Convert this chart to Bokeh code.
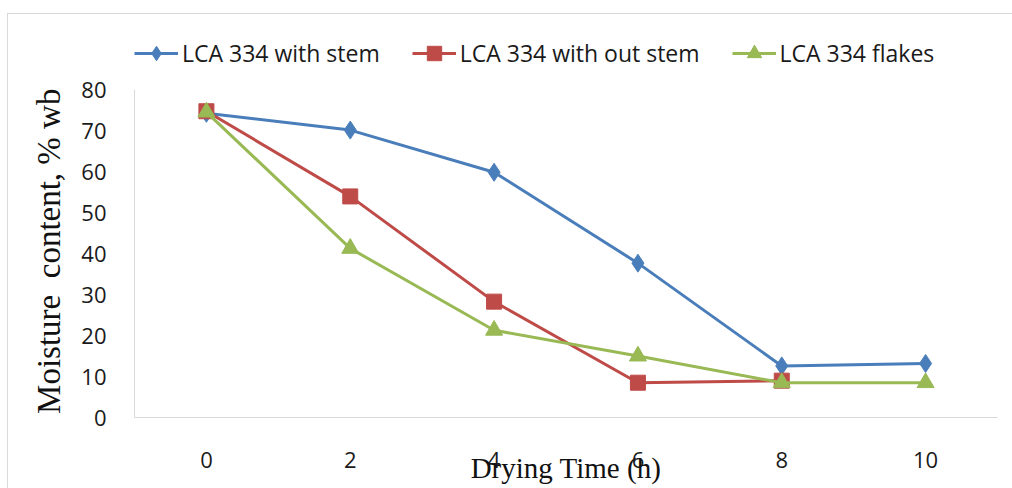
from bokeh.plotting import figure
from bokeh.models import Range1d, Legend, LegendItem, FixedTicker
from bokeh.embed import file_html
from bokeh.resources import INLINE

times = [0, 2, 4, 6, 8, 10]
with_stem = [74.3, 70.2, 59.9, 37.7, 12.6, 13.2]
without_stem_times = [0, 2, 4, 6, 8]
without_stem = [74.8, 54.0, 28.3, 8.5, 9.0]
flakes = [74.6, 41.3, 21.3, 15.0, 8.5, 8.5]
y_ticks = [0, 10, 20, 30, 40, 50, 60, 70, 80]

BLUE = "#4a7ebb"
RED = "#be4b48"
GREEN = "#98b954"

p = figure(width=1005, height=475, x_range=Range1d(-1, 11.0), y_range=Range1d(0, 93.3),
           output_backend="svg", toolbar_location=None,
           min_border_left=126, min_border_right=16, min_border_top=21, min_border_bottom=72)
p.margin = (13, 0, 0, 7)
p.styles = {"border-top": "1px solid #d9d9d9", "border-left": "1px solid #d9d9d9"}
p.outline_line_color = None
p.xgrid.visible = False
p.ygrid.visible = False

r1 = p.line(times, with_stem, line_color=BLUE, line_width=3)
m1 = p.scatter(times, with_stem, marker="diamond", size=18, fill_color=BLUE, line_color=BLUE)
r2 = p.line(without_stem_times, without_stem, line_color=RED, line_width=3)
m2 = p.scatter(without_stem_times, without_stem, marker="square", size=15, fill_color=RED, line_color=RED)
r3 = p.line(times, flakes, line_color=GREEN, line_width=3)
m3 = p.scatter(times, flakes, marker="triangle", size=17, fill_color=GREEN, line_color=GREEN)

for ax in (p.xaxis[0], p.yaxis[0]):
    ax.axis_line_color = "#d9d9d9"
    ax.axis_line_width = 1
    ax.major_tick_line_color = None
    ax.minor_tick_line_color = None
    ax.major_tick_out = 0
    ax.major_tick_in = 0
    ax.major_label_text_font = "Open Sans"
    ax.major_label_text_font_size = "22px"
    ax.major_label_text_color = "#1a1a1a"
    ax.axis_label_text_font = "Liberation Serif"
    ax.axis_label_text_font_style = "normal"
    ax.axis_label_text_color = "#111111"

p.xaxis.ticker = FixedTicker(ticks=times)
p.xaxis.bounds = (-1, 11)
p.yaxis.ticker = FixedTicker(ticks=y_ticks)
p.yaxis.bounds = (y_ticks[0], y_ticks[-1])
p.yaxis.major_label_standoff = 28
p.yaxis.axis_label = "Moisture\u00a0\u00a0content, % wb" + "\u00a0" * 6
p.yaxis.axis_label_text_font_size = "33px"
p.yaxis.axis_label_standoff = 11
p.xaxis.major_label_standoff = 34
p.xaxis.axis_label = "Drying Time (h)"
p.xaxis.axis_label_text_font_size = "29px"
p.xaxis.axis_label_standoff = -19

legend = Legend(items=[
    LegendItem(label="LCA 334 with stem", renderers=[r1, m1]),
    LegendItem(label="LCA 334 with out stem", renderers=[r2, m2]),
    LegendItem(label="LCA 334 flakes", renderers=[r3, m3]),
], location=(0, 346), orientation="horizontal")
legend.border_line_color = None
legend.background_fill_alpha = 0
legend.padding = 0
legend.margin = 0
legend.spacing = 32
legend.glyph_width = 44
legend.glyph_height = 36
legend.label_standoff = 4
legend.label_text_font = "Open Sans"
legend.label_text_font_size = "23px"
legend.label_text_color = "#1a1a1a"
p.add_layout(legend, "center")

open("out.html", "w").write(file_html(p, INLINE))
